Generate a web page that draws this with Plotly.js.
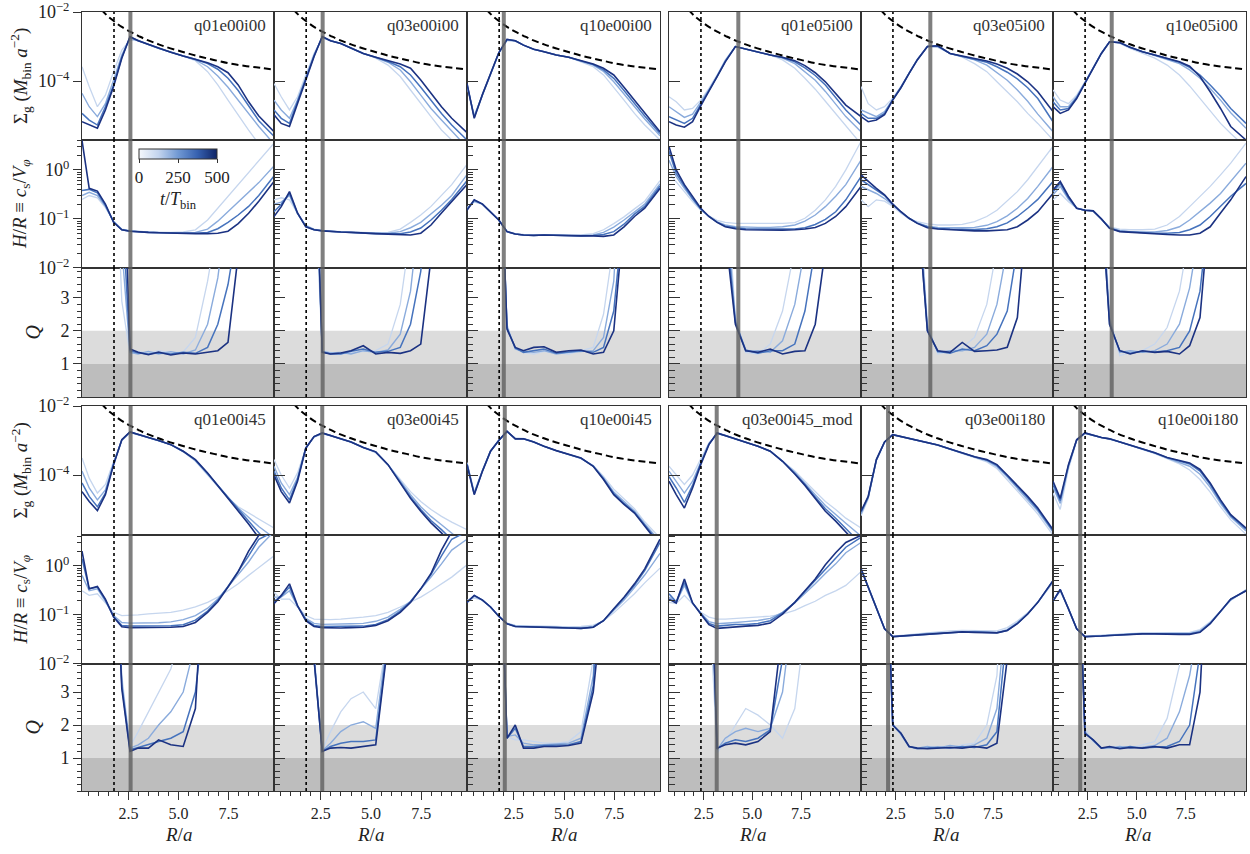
<!DOCTYPE html>
<html><head><meta charset="utf-8">
<script src="https://cdn.plot.ly/plotly-3.0.1.min.js"></script>
<style>html,body{margin:0;padding:0;background:#fff;}#chart{width:1250px;height:854px;}</style>
</head><body><div id="chart"></div>
<script>
// ---------- data ----------
// radial sample points: left group of panels and right group of panels (their R/a axes differ)
const R_left  = [0.17,0.53,0.94,1.34,1.75,2.16,2.57,2.98,3.49,4.0,4.61,5.23,5.84,6.45,6.96,7.47,7.98,8.5,9.01,9.77];
const R_right = [0.72,1.09,1.51,1.93,2.35,2.77,3.19,3.61,4.13,4.66,5.29,5.92,6.55,7.18,7.70,8.23,8.75,9.28,9.80,10.58];
const panelNames = ['q01e00i00','q03e00i00','q10e00i00','q01e05i00','q03e05i00','q10e05i00',
                    'q01e00i45','q03e00i45','q10e00i45','q03e00i45_mod','q03e00i180','q10e00i180'];
const grayR   = [2.59,2.59,2.0,4.28,4.28,3.72,2.6,2.57,2.05,3.17,2.11,2.11];
const dottedR = [1.77,1.77,1.77,2.36,2.36,2.36,1.77,1.77,1.77,2.36,2.36,2.36];
const snapshotTimes = [60,200,350,500];
const dashR_left  = [1.14,1.45,1.76,2.16,2.57,2.98,3.39,3.9,4.31,5.13,5.94,6.76,7.58,8.4,9.11,9.77];
const dashR_right = [1.72,2.03,2.35,2.77,3.19,3.61,4.03,4.55,4.97,5.81,6.65,7.49,8.33,9.17,9.91,10.58];
const dashSigma = [1.17e-2,7.7e-3,5.5e-3,3.7e-3,2.7e-3,2.05e-3,1.58e-3,1.22e-3,1.0e-3,7.2e-4,5.3e-4,4.1e-4,3.2e-4,2.7e-4,2.4e-4,2.15e-4];
const colorbarTicks = [0,250,500];
const xTicks = [2.5,5.0,7.5];
const xTickText = ['2.5','5.0','7.5'];

// each block: [t~60, t~200, t~350, t=500]
const sigma_q01e00i00 = [
 [2.6e-4,6.9e-5,1.8e-5,3.9e-5,1.87e-4,7.9e-4,1.55e-3,1.48e-3,1.15e-3,8.9e-4,6.8e-4,5.3e-4,3.9e-4,1.87e-4,7.7e-5,2.8e-5,1.0e-5,3.8e-6,1.5e-6,5e-7],
 [4.4e-5,1.8e-5,9.3e-6,2.2e-5,1.07e-4,5.7e-4,1.75e-3,1.48e-3,1.15e-3,8.9e-4,6.8e-4,5.3e-4,4.1e-4,2.6e-4,1.4e-4,6.6e-5,2.8e-5,1.15e-5,4.8e-6,1.5e-6],
 [1.15e-5,7.4e-6,5.3e-6,1.8e-5,7.7e-5,4.9e-4,1.86e-3,1.48e-3,1.15e-3,8.9e-4,6.8e-4,5.3e-4,4.3e-4,3.2e-4,2.2e-4,1.2e-4,5.3e-5,1.9e-5,7.1e-6,2.5e-6],
 [6.6e-6,5.3e-6,4.3e-6,1.45e-5,6.9e-5,4.6e-4,1.95e-3,1.48e-3,1.15e-3,8.9e-4,6.8e-4,5.3e-4,4.3e-4,3.4e-4,2.6e-4,1.74e-4,7.7e-5,2.5e-5,9.7e-6,3.4e-6]];
const hr_q01e00i00 = [
 [0.25,0.3,0.27,0.17,0.09,0.062,0.058,0.055,0.054,0.053,0.053,0.054,0.06,0.095,0.165,0.29,0.5,0.92,1.58,3.5],
 [0.3,0.35,0.3,0.18,0.088,0.061,0.057,0.055,0.054,0.053,0.052,0.052,0.053,0.062,0.09,0.14,0.22,0.35,0.55,1.2],
 [0.38,0.4,0.34,0.19,0.086,0.06,0.056,0.054,0.053,0.052,0.051,0.051,0.051,0.053,0.063,0.085,0.12,0.18,0.3,0.75],
 [4.0,0.42,0.37,0.2,0.085,0.06,0.056,0.054,0.053,0.052,0.051,0.05,0.05,0.05,0.051,0.056,0.08,0.13,0.23,0.58]];
const q_q01e00i00 = [
 [9,9,9,9,9,2.9,1.3,1.38,1.32,1.4,1.33,1.36,1.8,3.5,6,9,9,9,9,9],
 [9,9,9,9,9,4.5,1.35,1.3,1.38,1.3,1.37,1.3,1.42,2.2,3.6,6,9,9,9,9],
 [9,9,9,9,9,6,1.4,1.33,1.3,1.33,1.3,1.35,1.32,1.5,2.2,3.4,6,9,9,9],
 [9,9,9,9,9,9,1.45,1.35,1.28,1.36,1.27,1.33,1.3,1.35,1.4,1.65,4.3,9,9,9]];

const sigma_q03e00i00 = [
 [8.5e-5,3.5e-5,1.45e-5,3.5e-5,1.5e-4,6.3e-4,1.75e-3,1.48e-3,1.23e-3,8.9e-4,6.3e-4,4.6e-4,2.9e-4,1.35e-4,5.5e-5,2.2e-5,9.3e-6,3.8e-6,1.95e-6,6e-7],
 [2.8e-5,1.45e-5,8.3e-6,2.8e-5,1.2e-4,5.7e-4,1.86e-3,1.48e-3,1.23e-3,8.9e-4,6.3e-4,4.8e-4,3.5e-4,2.1e-4,9.5e-5,3.9e-5,1.6e-5,7.4e-6,3.4e-6,1.2e-6],
 [1.45e-5,8.3e-6,5.9e-6,2.5e-5,1.1e-4,5.3e-4,1.95e-3,1.48e-3,1.23e-3,8.9e-4,6.3e-4,4.9e-4,3.7e-4,2.6e-4,1.5e-4,6.6e-5,2.7e-5,1.15e-5,5.3e-6,1.95e-6],
 [1.05e-5,5.9e-6,4.8e-6,2.2e-5,1.07e-4,5.1e-4,1.95e-3,1.48e-3,1.23e-3,8.9e-4,6.3e-4,4.9e-4,3.9e-4,3.1e-4,2.35e-4,1.07e-4,4.4e-5,1.8e-5,8.3e-6,3.2e-6]];
const hr_q03e00i00 = [
 [0.245,0.27,0.245,0.13,0.075,0.062,0.058,0.056,0.055,0.054,0.053,0.052,0.053,0.062,0.085,0.12,0.18,0.3,0.5,1.3],
 [0.2,0.22,0.3,0.13,0.072,0.061,0.057,0.055,0.054,0.053,0.052,0.051,0.051,0.055,0.066,0.085,0.125,0.19,0.3,0.8],
 [0.14,0.2,0.33,0.13,0.07,0.06,0.057,0.055,0.054,0.053,0.051,0.05,0.05,0.05,0.054,0.065,0.095,0.15,0.25,0.6],
 [0.112,0.178,0.36,0.132,0.069,0.06,0.057,0.055,0.054,0.053,0.051,0.05,0.049,0.048,0.047,0.051,0.075,0.132,0.225,0.5]];
const q_q03e00i00 = [
 [9,9,9,9,9,7,1.4,1.35,1.3,1.35,1.38,1.4,1.6,2.8,5,9,9,9,9,9],
 [9,9,9,9,9,8,1.38,1.33,1.35,1.3,1.4,1.35,1.42,1.9,3.2,6,9,9,9,9],
 [9,9,9,9,9,9,1.37,1.3,1.3,1.38,1.45,1.35,1.38,1.5,2.2,3.8,7,9,9,9],
 [9,9,9,9,9,9,1.35,1.3,1.33,1.4,1.55,1.3,1.35,1.32,1.4,1.6,4.2,9,9,9]];

const sigma_q10e00i00 = [
 [6.9e-5,1.05e-5,3.9e-5,1.5e-4,6.3e-4,1.48e-3,1.42e-3,1.1e-3,8.3e-4,7.1e-4,5.7e-4,4.9e-4,3.6e-4,2.6e-4,1.5e-4,6.6e-5,2.8e-5,1.15e-5,5.3e-6,1.95e-6],
 [7.7e-5,9.3e-6,4.0e-5,1.55e-4,6.4e-4,1.55e-3,1.48e-3,1.1e-3,8.3e-4,7.1e-4,5.7e-4,4.9e-4,3.8e-4,2.9e-4,1.9e-4,9.5e-5,4.2e-5,1.8e-5,7.9e-6,2.6e-6],
 [8.1e-5,8.8e-6,4.1e-5,1.6e-4,6.6e-4,1.6e-3,1.48e-3,1.1e-3,8.3e-4,7.1e-4,5.7e-4,4.9e-4,3.9e-4,3.0e-4,2.1e-4,1.2e-4,5.3e-5,2.2e-5,9.7e-6,3.0e-6],
 [8.5e-5,8.3e-6,4.1e-5,1.63e-4,6.6e-4,1.62e-3,1.48e-3,1.1e-3,8.3e-4,7.1e-4,5.7e-4,4.9e-4,3.9e-4,3.1e-4,2.35e-4,1.5e-4,6.6e-5,2.8e-5,1.15e-5,3.4e-6]];
const hr_q10e00i00 = [
 [0.17,0.22,0.2,0.14,0.095,0.056,0.05,0.048,0.047,0.047,0.047,0.047,0.047,0.05,0.06,0.08,0.11,0.16,0.23,0.6],
 [0.16,0.23,0.2,0.14,0.095,0.055,0.049,0.047,0.046,0.047,0.046,0.046,0.046,0.047,0.053,0.068,0.095,0.14,0.2,0.52],
 [0.155,0.24,0.2,0.14,0.095,0.055,0.049,0.047,0.046,0.047,0.046,0.046,0.045,0.046,0.048,0.055,0.078,0.125,0.18,0.47],
 [0.15,0.245,0.2,0.14,0.095,0.055,0.049,0.047,0.046,0.047,0.046,0.046,0.045,0.045,0.044,0.047,0.069,0.112,0.165,0.42]];
const q_q10e00i00 = [
 [9,9,9,9,9,2.2,1.45,1.35,1.3,1.38,1.33,1.3,1.4,1.5,2.5,5,9,9,9,9],
 [9,9,9,9,9,2.1,1.45,1.38,1.35,1.4,1.3,1.35,1.38,1.4,1.8,3.5,9,9,9,9],
 [9,9,9,9,9,2.1,1.48,1.35,1.4,1.45,1.32,1.37,1.4,1.35,1.5,2.6,9,9,9,9],
 [9,9,9,9,9,2.05,1.5,1.4,1.5,1.52,1.35,1.4,1.42,1.3,1.35,2.0,8,9,9,9]];

const sigma_q01e05i00 = [
 [3.5e-5,2.5e-5,1.45e-5,1.6e-5,2.8e-5,6.1e-5,1.5e-4,4.1e-4,1.0e-3,8.5e-4,6.8e-4,5.7e-4,4.1e-4,2.35e-4,1.2e-4,5.8e-5,2.6e-5,1.15e-5,5.0e-6,1.5e-6],
 [1.8e-5,1.3e-5,8.8e-6,1.1e-5,2.4e-5,5.5e-5,1.4e-4,3.9e-4,1.0e-3,8.5e-4,6.8e-4,5.7e-4,4.6e-4,3.2e-4,1.9e-4,1.05e-4,5.0e-5,2.2e-5,9.3e-6,3.4e-6],
 [9.3e-6,7.4e-6,5.9e-6,8.3e-6,2.1e-5,5.2e-5,1.35e-4,3.7e-4,1.0e-3,8.5e-4,6.8e-4,5.7e-4,4.8e-4,3.6e-4,2.4e-4,1.45e-4,7.7e-5,3.3e-5,1.45e-5,5.3e-6],
 [6.6e-6,5.3e-6,4.6e-6,6.6e-6,1.9e-5,4.9e-5,1.3e-4,3.6e-4,1.0e-3,8.5e-4,6.8e-4,5.7e-4,4.9e-4,3.9e-4,2.8e-4,1.74e-4,9.5e-5,4.4e-5,2.0e-5,9.3e-6]];
const hr_q01e05i00 = [
 [0.85,0.58,0.36,0.225,0.15,0.115,0.093,0.085,0.081,0.081,0.081,0.081,0.081,0.084,0.103,0.15,0.245,0.46,1.0,3.8],
 [1.58,0.73,0.42,0.25,0.158,0.112,0.087,0.075,0.069,0.067,0.067,0.067,0.069,0.075,0.09,0.12,0.178,0.29,0.5,1.58],
 [2.4,0.85,0.46,0.26,0.16,0.112,0.086,0.071,0.066,0.063,0.062,0.062,0.062,0.062,0.066,0.077,0.098,0.14,0.245,0.73],
 [3.0,1.0,0.5,0.29,0.165,0.112,0.085,0.069,0.063,0.06,0.059,0.059,0.059,0.06,0.062,0.067,0.081,0.112,0.178,0.46]];
const q_q01e05i00 = [
 [9,9,9,9,9,9,9,7,2.4,1.35,1.3,1.6,2.6,4.5,9,9,9,9,9,9],
 [9,9,9,9,9,9,9,6,2.3,1.38,1.4,1.35,1.7,2.8,4.5,9,9,9,9,9],
 [9,9,9,9,9,9,9,5.5,2.25,1.42,1.32,1.4,1.4,1.6,2.6,4.5,9,9,9,9],
 [9,9,9,9,9,9,9,5,2.2,1.4,1.35,1.45,1.3,1.38,1.4,2.2,4.5,9,9,9]];

const sigma_q03e05i00 = [
 [6.9e-5,2.2e-5,1.45e-5,1.8e-5,3.2e-5,7.0e-5,1.7e-4,4.3e-4,1.0e-3,9.5e-4,6.3e-4,4.9e-4,3.2e-4,1.87e-4,9.5e-5,4.9e-5,2.5e-5,1.15e-5,5.9e-6,1.95e-6],
 [1.45e-5,1.15e-5,9.3e-6,1.3e-5,3.0e-5,6.6e-5,1.7e-4,4.2e-4,1.0e-3,1.0e-3,6.3e-4,5.1e-4,4.1e-4,2.9e-4,1.8e-4,1.05e-4,5.5e-5,2.6e-5,1.1e-5,3.4e-6],
 [1.15e-5,8.3e-6,8.3e-6,1.15e-5,2.9e-5,6.5e-5,1.66e-4,4.1e-4,1.0e-3,1.05e-3,6.3e-4,5.2e-4,4.4e-4,3.5e-4,2.6e-4,1.8e-4,1.15e-4,6.4e-5,3.1e-5,6.6e-6],
 [9.3e-6,6.6e-6,7.4e-6,1.05e-5,2.8e-5,6.4e-5,1.66e-4,4.1e-4,1.0e-3,1.05e-3,6.3e-4,5.3e-4,4.6e-4,3.8e-4,3.1e-4,2.35e-4,1.6e-4,9.5e-5,4.9e-5,1.3e-5]];
const hr_q03e05i00 = [
 [0.245,0.178,0.245,0.23,0.18,0.13,0.1,0.088,0.079,0.075,0.075,0.077,0.088,0.112,0.15,0.23,0.36,0.63,1.17,3.0],
 [0.46,0.39,0.33,0.26,0.19,0.135,0.103,0.083,0.071,0.067,0.066,0.066,0.067,0.074,0.088,0.115,0.165,0.26,0.46,1.17],
 [0.63,0.5,0.39,0.3,0.2,0.138,0.103,0.082,0.069,0.064,0.062,0.061,0.061,0.063,0.069,0.083,0.112,0.165,0.25,0.58],
 [0.79,0.58,0.42,0.31,0.2,0.14,0.103,0.081,0.066,0.062,0.06,0.058,0.057,0.057,0.058,0.06,0.069,0.095,0.14,0.33]];
const q_q03e05i00 = [
 [9,9,9,9,9,9,9,7,2.2,1.3,1.38,1.5,1.8,2.8,4.5,9,9,9,9,9],
 [9,9,9,9,9,9,9,6.5,2.1,1.35,1.4,1.4,1.5,1.9,2.8,4.5,9,9,9,9],
 [9,9,9,9,9,9,9,6,2.0,1.38,1.32,1.45,1.4,1.55,1.9,2.6,4.5,9,9,9],
 [9,9,9,9,9,9,9,6,2.0,1.4,1.35,1.65,1.38,1.4,1.42,1.5,2.4,6,9,9]];

const sigma_q10e05i00 = [
 [5.5e-5,2.8e-5,2.2e-5,3.9e-5,9.5e-5,2.5e-4,6.3e-4,1.38e-3,1.23e-3,8.9e-4,6.3e-4,4.6e-4,2.9e-4,1.5e-4,7.2e-5,3.1e-5,1.3e-5,5.9e-6,3.0e-6,1.2e-6],
 [3.5e-5,1.8e-5,1.8e-5,3.5e-5,8.9e-5,2.4e-4,6.3e-4,1.38e-3,1.28e-3,9.3e-4,7.1e-4,5.5e-4,4.3e-4,3.2e-4,2.1e-4,1.2e-4,6.1e-5,2.8e-5,1.2e-5,4.3e-6],
 [2.5e-5,1.45e-5,1.6e-5,3.3e-5,8.7e-5,2.35e-4,6.3e-4,1.38e-3,1.3e-3,9.5e-4,7.1e-4,5.7e-4,4.5e-4,3.5e-4,2.5e-4,1.5e-4,7.7e-5,3.7e-5,1.6e-5,5.9e-6],
 [1.8e-5,1.15e-5,1.45e-5,3.1e-5,8.5e-5,2.35e-4,6.3e-4,1.38e-3,1.3e-3,9.5e-4,7.1e-4,5.7e-4,4.6e-4,3.6e-4,2.7e-4,1.35e-4,4.9e-5,1.6e-5,4.8e-6,1.95e-6]];
const hr_q10e05i00 = [
 [0.245,0.33,0.225,0.165,0.15,0.146,0.1,0.069,0.062,0.06,0.06,0.062,0.075,0.112,0.178,0.29,0.46,0.79,1.37,3.5],
 [0.31,0.46,0.25,0.165,0.15,0.146,0.1,0.066,0.058,0.055,0.054,0.054,0.058,0.069,0.095,0.14,0.21,0.33,0.58,1.37],
 [0.36,0.53,0.27,0.165,0.15,0.146,0.1,0.065,0.056,0.054,0.052,0.051,0.051,0.053,0.06,0.075,0.112,0.178,0.29,0.53],
 [0.39,0.58,0.29,0.165,0.15,0.146,0.1,0.064,0.055,0.053,0.051,0.05,0.048,0.047,0.047,0.051,0.069,0.132,0.245,0.73]];
const q_q10e05i00 = [
 [9,9,9,9,9,9,7,2.4,1.25,1.35,1.4,1.6,2.1,3.2,5,9,9,9,9,9],
 [9,9,9,9,9,9,6.5,2.3,1.35,1.4,1.35,1.4,1.6,2.2,3.3,5.5,9,9,9,9],
 [9,9,9,9,9,9,6,2.2,1.4,1.32,1.38,1.36,1.4,1.5,2.0,3.2,6,9,9,9],
 [9,9,9,9,9,9,6,2.2,1.4,1.3,1.4,1.35,1.38,1.3,1.55,2.4,6,9,9,9]];

const sigma_q01e00i45 = [
 [3.1e-4,8.1e-5,3.0e-5,5.3e-5,2.5e-4,1.0e-3,1.66e-3,1.48e-3,1.23e-3,1.0e-3,7.6e-4,4.7e-4,2.5e-4,1.0e-4,4.6e-5,2.2e-5,1.2e-5,7.9e-6,5.1e-6,2.9e-6],
 [1.3e-4,4.2e-5,1.9e-5,3.7e-5,2.2e-4,1.03e-3,1.75e-3,1.48e-3,1.23e-3,1.0e-3,7.6e-4,4.8e-4,2.7e-4,1.07e-4,4.9e-5,2.2e-5,1.1e-5,5.9e-6,3.2e-6,1.5e-6],
 [5.9e-5,2.4e-5,1.2e-5,3.0e-5,2.1e-4,1.05e-3,1.78e-3,1.48e-3,1.23e-3,1.0e-3,7.6e-4,4.9e-4,2.7e-4,1.1e-4,5.0e-5,2.2e-5,9.7e-6,4.6e-6,2.1e-6,7.5e-7],
 [3.3e-5,1.7e-5,9.3e-6,2.7e-5,2.0e-4,1.05e-3,1.78e-3,1.48e-3,1.23e-3,1.0e-3,7.6e-4,4.9e-4,2.8e-4,1.15e-4,5.0e-5,2.1e-5,8.9e-6,3.8e-6,1.5e-6,5e-7]];
const hr_q01e00i45 = [
 [0.31,0.25,0.27,0.18,0.113,0.097,0.097,0.1,0.105,0.11,0.113,0.125,0.145,0.18,0.23,0.31,0.43,0.64,0.94,1.6],
 [0.64,0.31,0.34,0.19,0.097,0.07,0.068,0.068,0.068,0.069,0.072,0.08,0.097,0.137,0.21,0.37,0.64,1.2,2.4,5],
 [1.4,0.34,0.37,0.2,0.092,0.061,0.059,0.059,0.059,0.059,0.06,0.063,0.078,0.12,0.2,0.38,0.76,1.6,3.5,5],
 [2.0,0.34,0.38,0.21,0.09,0.057,0.055,0.055,0.055,0.055,0.056,0.058,0.07,0.113,0.185,0.37,0.76,2.0,4.2,6]];
const q_q01e00i45 = [
 [9,9,9,9,9,3.5,1.35,1.8,2.4,3.0,3.7,5,9,9,9,9,9,9,9,9],
 [9,9,9,9,9,3.3,1.3,1.4,1.6,2.0,2.4,3.0,4.5,9,9,9,9,9,9,9],
 [9,9,9,9,9,3.2,1.25,1.32,1.4,1.5,1.6,1.8,3.0,9,9,9,9,9,9,9],
 [9,9,9,9,9,3.1,1.2,1.3,1.3,1.55,1.4,1.35,2.5,9,9,9,9,9,9,9]];

const sigma_q03e00i45 = [
 [2.8e-4,1.0e-4,4.2e-5,1.15e-4,6.0e-4,1.23e-3,1.55e-3,1.4e-3,1.12e-3,9.1e-4,6.3e-4,4.4e-4,2.0e-4,7.4e-5,3.3e-5,1.7e-5,1.0e-5,6.3e-6,4.3e-6,2.6e-6],
 [1.8e-4,5.9e-5,2.7e-5,8.5e-5,6.0e-4,1.28e-3,1.6e-3,1.4e-3,1.12e-3,9.1e-4,6.3e-4,4.6e-4,2.0e-4,6.6e-5,2.7e-5,1.2e-5,6.3e-6,3.6e-6,2.1e-6,9e-7],
 [1.3e-4,4.2e-5,1.9e-5,7.4e-5,6.0e-4,1.3e-3,1.66e-3,1.4e-3,1.12e-3,9.1e-4,6.3e-4,4.7e-4,2.0e-4,6.2e-5,2.3e-5,1.0e-5,4.8e-6,2.6e-6,1.3e-6,5e-7],
 [1.0e-4,3.3e-5,1.55e-5,6.6e-5,6.0e-4,1.3e-3,1.66e-3,1.4e-3,1.12e-3,9.1e-4,6.3e-4,4.7e-4,2.0e-4,5.9e-5,2.1e-5,8.9e-6,4.1e-6,2.1e-6,9e-7,3e-7]];
const hr_q03e00i45 = [
 [0.29,0.21,0.21,0.145,0.097,0.082,0.08,0.08,0.082,0.085,0.09,0.097,0.113,0.145,0.18,0.23,0.31,0.43,0.59,1.05],
 [0.23,0.23,0.31,0.15,0.085,0.067,0.064,0.064,0.064,0.066,0.067,0.074,0.09,0.13,0.19,0.33,0.59,1.1,2.1,3.5],
 [0.19,0.24,0.37,0.152,0.08,0.061,0.058,0.058,0.058,0.058,0.059,0.064,0.08,0.12,0.185,0.34,0.66,1.6,3.5,5],
 [0.17,0.25,0.43,0.155,0.076,0.058,0.055,0.054,0.054,0.055,0.056,0.061,0.076,0.113,0.18,0.34,0.7,2.1,5,6]];
const q_q03e00i45 = [
 [9,9,9,9,9,4.2,1.25,1.8,2.4,2.8,3.0,2.5,5,9,9,9,9,9,9,9],
 [9,9,9,9,9,4.1,1.22,1.45,1.8,2.0,2.1,1.9,4.8,9,9,9,9,9,9,9],
 [9,9,9,9,9,4.0,1.2,1.35,1.45,1.5,1.5,1.55,4.6,9,9,9,9,9,9,9],
 [9,9,9,9,9,4.0,1.2,1.3,1.32,1.3,1.35,1.4,4.5,9,9,9,9,9,9,9]];

const sigma_q10e00i45 = [
 [2.3e-4,3.2e-5,1.4e-4,5.0e-4,1.0e-3,1.75e-3,1.2e-3,1.15e-3,9.1e-4,6.8e-4,5.1e-4,3.9e-4,3.0e-4,1.9e-4,9.1e-5,3.9e-5,2.0e-5,1.05e-5,4.4e-6,1.5e-6],
 [2.2e-4,3.0e-5,1.35e-4,4.9e-4,1.0e-3,1.8e-3,1.15e-3,1.13e-3,9.1e-4,6.8e-4,5.1e-4,3.9e-4,3.05e-4,1.85e-4,8.3e-5,3.2e-5,1.7e-5,9.0e-6,3.8e-6,1.2e-6],
 [2.1e-4,2.8e-5,1.3e-4,4.9e-4,1.0e-3,1.85e-3,1.12e-3,1.12e-3,9.1e-4,6.8e-4,5.1e-4,3.9e-4,3.1e-4,1.8e-4,7.8e-5,2.9e-5,1.5e-5,8.3e-6,3.4e-6,1.0e-6],
 [2.0e-4,2.7e-5,1.3e-4,4.9e-4,1.0e-3,1.86e-3,1.12e-3,1.12e-3,9.1e-4,6.8e-4,5.1e-4,3.9e-4,3.1e-4,1.8e-4,7.4e-5,2.7e-5,1.4e-5,7.9e-6,3.2e-6,9e-7]];
const hr_q10e00i45 = [
 [0.2,0.22,0.2,0.145,0.094,0.068,0.061,0.06,0.059,0.058,0.058,0.057,0.058,0.062,0.075,0.11,0.17,0.27,0.45,0.9],
 [0.19,0.24,0.2,0.145,0.094,0.067,0.06,0.058,0.057,0.056,0.056,0.055,0.055,0.058,0.076,0.125,0.2,0.36,0.65,1.8],
 [0.18,0.25,0.2,0.145,0.094,0.066,0.058,0.057,0.056,0.055,0.055,0.054,0.053,0.056,0.076,0.13,0.22,0.4,0.8,3.0],
 [0.18,0.25,0.2,0.145,0.094,0.066,0.058,0.057,0.056,0.055,0.055,0.054,0.053,0.056,0.076,0.133,0.23,0.43,0.87,3.5]];
const q_q10e00i45 = [
 [9,9,9,9,9,1.65,1.55,1.55,1.5,1.45,1.45,1.5,1.8,4.0,9,9,9,9,9,9],
 [9,9,9,9,9,1.65,1.7,1.45,1.4,1.4,1.42,1.45,1.6,3.5,9,9,9,9,9,9],
 [9,9,9,9,9,1.6,1.9,1.35,1.35,1.38,1.38,1.4,1.5,3.2,9,9,9,9,9,9],
 [9,9,9,9,9,1.6,2.0,1.3,1.3,1.35,1.35,1.38,1.45,3.0,9,9,9,9,9,9]];

const sigma_q03e00i45_mod = [
 [1.8e-4,1.0e-4,5.3e-5,1.0e-4,2.8e-4,8.5e-4,1.55e-3,1.4e-3,1.12e-3,9.1e-4,6.8e-4,4.9e-4,2.6e-4,1.3e-4,6.6e-5,3.3e-5,1.7e-5,1.0e-5,5.6e-6,2.9e-6],
 [1.3e-4,6.6e-5,3.0e-5,6.6e-5,2.4e-4,8.1e-4,1.6e-3,1.4e-3,1.12e-3,9.1e-4,6.8e-4,4.9e-4,2.55e-4,1.2e-4,5.9e-5,2.7e-5,1.3e-5,7.4e-6,4.0e-6,1.7e-6],
 [9.0e-5,4.2e-5,1.6e-5,5.0e-5,2.2e-4,7.8e-4,1.66e-3,1.4e-3,1.12e-3,9.1e-4,6.8e-4,4.9e-4,2.5e-4,1.1e-4,5.3e-5,2.3e-5,1.05e-5,5.6e-6,2.9e-6,1.0e-6],
 [6.6e-5,2.7e-5,1.1e-5,4.2e-5,2.0e-4,7.6e-4,1.66e-3,1.4e-3,1.12e-3,9.1e-4,6.8e-4,4.9e-4,2.5e-4,1.07e-4,5.0e-5,2.1e-5,8.9e-6,4.6e-6,2.3e-6,7.5e-7]];
const hr_q03e00i45_mod = [
 [0.18,0.17,0.25,0.17,0.113,0.09,0.082,0.082,0.085,0.088,0.09,0.094,0.104,0.124,0.155,0.19,0.25,0.31,0.4,0.76],
 [0.23,0.18,0.4,0.173,0.11,0.073,0.066,0.067,0.07,0.073,0.077,0.085,0.113,0.175,0.27,0.43,0.7,1.1,1.85,3.0],
 [0.27,0.185,0.46,0.175,0.107,0.067,0.059,0.061,0.064,0.064,0.067,0.076,0.11,0.18,0.3,0.5,0.87,1.45,2.4,3.8],
 [0.21,0.175,0.54,0.175,0.104,0.063,0.053,0.055,0.058,0.059,0.061,0.068,0.104,0.18,0.31,0.54,1.05,1.85,3.0,4.2]];
const q_q03e00i45_mod = [
 [9,9,9,9,9,6,1.15,1.5,2.0,2.5,2.3,2.0,1.6,2.5,5,9,9,9,9,9],
 [9,9,9,9,9,8,1.25,1.6,1.8,1.9,1.8,1.9,3.0,6,9,9,9,9,9,9],
 [9,9,9,9,9,9,1.28,1.45,1.55,1.5,1.6,1.85,4.0,9,9,9,9,9,9,9],
 [9,9,9,9,9,9,1.3,1.4,1.45,1.4,1.5,1.8,5,9,9,9,9,9,9,9]];

const sigma_q03e00i180 = [
 [6.6e-6,2.0e-5,2.6e-4,8.9e-4,1.45e-3,1.3e-3,1.15e-3,1.05e-3,8.9e-4,7.4e-4,5.7e-4,4.2e-4,3.2e-4,2.4e-4,1.55e-4,7.4e-5,3.5e-5,1.6e-5,7.4e-6,1.8e-6],
 [7.4e-6,2.2e-5,2.7e-4,9.0e-4,1.47e-3,1.3e-3,1.15e-3,1.05e-3,8.9e-4,7.4e-4,5.7e-4,4.3e-4,3.3e-4,2.6e-4,1.75e-4,8.7e-5,4.2e-5,2.0e-5,9.0e-6,2.2e-6],
 [8.3e-6,2.3e-5,2.8e-4,9.1e-4,1.48e-3,1.3e-3,1.15e-3,1.05e-3,8.9e-4,7.4e-4,5.7e-4,4.3e-4,3.4e-4,2.7e-4,1.9e-4,9.5e-5,4.7e-5,2.2e-5,1.0e-5,2.4e-6],
 [8.9e-6,2.4e-5,2.8e-4,9.1e-4,1.48e-3,1.3e-3,1.15e-3,1.05e-3,8.9e-4,7.4e-4,5.7e-4,4.3e-4,3.4e-4,2.8e-4,2.0e-4,1.0e-4,5.0e-5,2.4e-5,1.1e-5,2.6e-6]];
const hr_q03e00i180 = [
 [0.9,0.38,0.135,0.053,0.037,0.038,0.04,0.041,0.043,0.045,0.047,0.048,0.048,0.048,0.047,0.055,0.075,0.11,0.18,0.45],
 [0.88,0.37,0.134,0.052,0.036,0.037,0.039,0.04,0.042,0.043,0.045,0.046,0.046,0.045,0.044,0.05,0.07,0.107,0.18,0.48],
 [0.87,0.37,0.133,0.052,0.036,0.037,0.038,0.039,0.041,0.042,0.044,0.045,0.045,0.044,0.043,0.048,0.067,0.104,0.18,0.5],
 [0.87,0.37,0.133,0.052,0.036,0.037,0.038,0.039,0.041,0.042,0.044,0.045,0.044,0.044,0.043,0.048,0.066,0.104,0.18,0.5]];
const q_q03e00i180 = [
 [9,9,9,9,2.05,1.7,1.35,1.32,1.3,1.35,1.3,1.4,1.45,2.0,3.5,9,9,9,9,9],
 [9,9,9,9,2.0,1.72,1.33,1.3,1.35,1.3,1.38,1.33,1.4,1.6,2.5,6,9,9,9,9],
 [9,9,9,9,2.0,1.75,1.35,1.28,1.3,1.33,1.3,1.35,1.32,1.4,1.8,5,9,9,9,9],
 [9,9,9,9,2.0,1.75,1.35,1.3,1.28,1.3,1.32,1.3,1.35,1.3,1.45,4.0,9,9,9,9]];

const sigma_q10e00i180 = [
 [3.0e-5,1.0e-5,1.5e-4,1.0e-3,1.6e-3,1.4e-3,1.23e-3,1.12e-3,9.1e-4,7.2e-4,5.6e-4,4.2e-4,3.0e-4,2.1e-4,1.4e-4,7.4e-5,3.2e-5,1.2e-5,5.0e-6,1.9e-6],
 [4.5e-5,1.5e-5,1.75e-4,1.03e-3,1.63e-3,1.4e-3,1.23e-3,1.12e-3,9.1e-4,7.2e-4,5.7e-4,4.3e-4,3.1e-4,2.35e-4,1.8e-4,1.05e-4,4.4e-5,1.5e-5,6.0e-6,2.4e-6],
 [5.5e-5,1.8e-5,1.9e-4,1.05e-3,1.66e-3,1.4e-3,1.23e-3,1.12e-3,9.1e-4,7.2e-4,5.8e-4,4.4e-4,3.2e-4,2.5e-4,2.1e-4,1.3e-4,5.3e-5,1.7e-5,6.6e-6,2.7e-6],
 [6.6e-5,2.1e-5,2.0e-4,1.05e-3,1.66e-3,1.4e-3,1.23e-3,1.12e-3,9.1e-4,7.2e-4,5.8e-4,4.4e-4,3.2e-4,2.6e-4,2.25e-4,1.45e-4,5.9e-5,1.9e-5,7.1e-6,2.9e-6]];
const hr_q10e00i180 = [
 [0.2,0.3,0.135,0.053,0.037,0.038,0.039,0.04,0.041,0.042,0.043,0.043,0.043,0.043,0.044,0.05,0.072,0.12,0.2,0.33],
 [0.19,0.32,0.134,0.052,0.036,0.037,0.038,0.039,0.04,0.041,0.042,0.042,0.042,0.042,0.042,0.047,0.069,0.118,0.2,0.32],
 [0.19,0.33,0.133,0.052,0.036,0.036,0.037,0.038,0.039,0.04,0.041,0.041,0.041,0.041,0.041,0.045,0.067,0.117,0.21,0.31],
 [0.19,0.33,0.133,0.052,0.036,0.036,0.037,0.038,0.039,0.04,0.041,0.041,0.04,0.04,0.04,0.044,0.066,0.117,0.21,0.31]];
const q_q10e00i180 = [
 [9,9,9,9,1.9,1.5,1.3,1.32,1.35,1.3,1.4,1.5,2.2,3.8,6,9,9,9,9,9],
 [9,9,9,9,1.8,1.52,1.3,1.3,1.35,1.3,1.33,1.38,1.6,2.4,3.5,6,9,9,9,9],
 [9,9,9,9,1.75,1.55,1.3,1.33,1.3,1.35,1.3,1.33,1.35,1.5,2.0,4.2,9,9,9,9],
 [9,9,9,9,1.75,1.55,1.3,1.35,1.28,1.32,1.3,1.35,1.3,1.4,1.4,3.0,9,9,9,9]];

// ---------- styling ----------
const FONT = 'Liberation Serif, DejaVu Serif, serif';
const W = 1250, H = 854;
const lineColors = ['#c6d6ee','#8aabdc','#4673bd','#1b3282'];
const lineWidths = [1.3,1.4,1.5,1.6];
const cmap = [[0,'#f5f8fc'],[0.25,'#c3d4ee'],[0.5,'#7199d4'],[0.75,'#3661b0'],[1,'#0f2466']];
const colPx = [[82,274],[274,467],[467,660],[669,861],[861,1053],[1053,1246]];
const xLabelPx = [178,370,563,752,945,1137];
const rowPx = [[[12,140],[140,268],[268,397]],[[406,535],[535,664],[664,791]]];
const yRanges = [[[-5.71,-1.998],[-2.002,0.61],[0,3.9]],[[-5.74,-1.998],[-2.002,0.63],[0,3.85]]];
const xRangeLeft = [0.17,9.77], xRangeRight = [0.72,10.58];

const allSigma = [sigma_q01e00i00,sigma_q03e00i00,sigma_q10e00i00,sigma_q01e05i00,sigma_q03e05i00,sigma_q10e05i00,
                  sigma_q01e00i45,sigma_q03e00i45,sigma_q10e00i45,sigma_q03e00i45_mod,sigma_q03e00i180,sigma_q10e00i180];
const allHR = [hr_q01e00i00,hr_q03e00i00,hr_q10e00i00,hr_q01e05i00,hr_q03e05i00,hr_q10e05i00,
               hr_q01e00i45,hr_q03e00i45,hr_q10e00i45,hr_q03e00i45_mod,hr_q03e00i180,hr_q10e00i180];
const allQ = [q_q01e00i00,q_q03e00i00,q_q10e00i00,q_q01e05i00,q_q03e05i00,q_q10e05i00,
              q_q01e00i45,q_q03e00i45,q_q10e00i45,q_q03e00i45_mod,q_q03e00i180,q_q10e00i180];

const hrMinor = [];
[0.01,0.1,1].forEach(d => { for (let m=2;m<=9;m++) hrMinor.push(+(m*d).toPrecision(2)); });

const data = [], shapes = [], annotations = [];
const layout = {
  width: W, height: H, margin: {l:0,r:0,t:0,b:0},
  paper_bgcolor: '#ffffff', plot_bgcolor: 'rgba(0,0,0,0)', showlegend: false,
  font: {family: FONT, size: 15, color: '#222'},
  shapes: shapes, annotations: annotations
};
const AX = '#333';

panelNames.forEach((name, p) => {
  const b = Math.floor(p/6), c = p % 6;
  const rightGroup = c >= 3;
  const Rgrid = rightGroup ? R_right : R_left;
  const dashR = rightGroup ? dashR_right : dashR_left;
  const series = [allSigma[p], allHR[p], allQ[p]];
  for (let r = 0; r < 3; r++) {
    const k = b*18 + c*3 + r + 1;
    const sfx = k === 1 ? '' : String(k);
    const xs = 'x'+sfx, ys = 'y'+sfx;
    const left = c === 0;
    const bottomRow = (b === 1 && r === 2);
    const [top, bot] = rowPx[b][r];
    const xa = {
      domain: [colPx[c][0]/W, colPx[c][1]/W], range: rightGroup ? xRangeRight : xRangeLeft, anchor: ys,
      showline: true, mirror: true, linecolor: AX, linewidth: 1,
      showgrid: false, zeroline: false, fixedrange: true,
      tickmode: 'array', tickvals: xTicks, ticktext: xTickText,
      ticks: bottomRow ? 'outside' : '', ticklen: 8, tickcolor: AX,
      showticklabels: bottomRow, tickfont: {family: FONT, size: 16, color: '#222'}
    };
    if (bottomRow) xa.minor = {dtick: 0.5, tick0: 0, ticks: 'outside', ticklen: 4, tickcolor: AX};
    layout['xaxis'+sfx] = xa;

    const ya = {
      domain: [1 - bot/H, 1 - top/H], range: yRanges[b][r], anchor: xs,
      showline: true, mirror: true, linecolor: AX, linewidth: 1,
      showgrid: false, zeroline: false, fixedrange: true,
      ticks: left ? 'outside' : 'inside', ticklen: left ? 8 : 11, tickcolor: AX,
      showticklabels: left, tickfont: {family: FONT, size: 18, color: '#222'},
      ticklabeloverflow: 'allow', tickmode: 'array'
    };
    if (r === 0) {
      ya.type = 'log';
      ya.tickvals = [1e-4, 1e-2];
      ya.ticktext = ['10<sup>−4</sup>','10<sup>−2</sup>'];
    } else if (r === 1) {
      ya.type = 'log';
      ya.tickvals = [1e-2, 1e-1, 1];
      ya.ticktext = ['10<sup>−2</sup>','10<sup>−1</sup>','10<sup>0</sup>'];
      ya.minor = {tickmode: 'array', tickvals: hrMinor, ticks: left ? 'outside' : 'inside', ticklen: left ? 4 : 6, tickcolor: AX};
    } else {
      ya.type = 'linear';
      ya.tickvals = [1,2,3];
      ya.ticktext = ['1','2','3'];
      ya.minor = {dtick: 0.2, tick0: 0, ticks: left ? 'outside' : 'inside', ticklen: left ? 4 : 6, tickcolor: AX};
    }
    layout['yaxis'+sfx] = ya;

    if (r === 2) {
      shapes.push({type:'rect', layer:'below', xref: xs+' domain', yref: ys, x0:0, x1:1, y0:0, y1:1, fillcolor:'#bdbdbd', line:{width:0}});
      shapes.push({type:'rect', layer:'below', xref: xs+' domain', yref: ys, x0:0, x1:1, y0:1, y1:2, fillcolor:'#dcdcdc', line:{width:0}});
    }
    series[r].forEach((vals, i) => {
      data.push({type:'scatter', mode:'lines', x: Rgrid, y: vals, xaxis: xs, yaxis: ys,
                 name: 't='+snapshotTimes[i], line: {color: lineColors[i], width: lineWidths[i]}, hoverinfo: 'skip'});
    });
    if (r === 0) {
      data.push({type:'scatter', mode:'lines', x: dashR, y: dashSigma, xaxis: xs, yaxis: ys,
                 line: {color:'#000', width: 2, dash: '7px,4px', shape: 'spline'}, hoverinfo: 'skip'});
    }
    shapes.push({type:'line', layer:'above', xref: xs, yref: ys+' domain', x0: grayR[p], x1: grayR[p], y0: 0, y1: 1,
                 line: {color: 'rgba(95,95,95,0.8)', width: 4}});
    shapes.push({type:'line', layer:'above', xref: xs, yref: ys+' domain', x0: dottedR[p], x1: dottedR[p], y0: 0, y1: 1,
                 line: {color: '#000', width: 1.6, dash: 'dot'}});
  }
  const topPx = rowPx[b][0][0];
  annotations.push({xref:'paper', yref:'paper', x: (colPx[c][1]-6)/W, y: 1-(topPx+13)/H, xanchor:'right', yanchor:'middle',
                    text: name, showarrow: false, font: {family: FONT, size: 17, color: '#333'}});
  if (b === 1) {
    annotations.push({xref:'paper', yref:'paper', x: xLabelPx[c]/W, y: 1-834/H, xanchor:'center', yanchor:'middle',
                      text: '<i>R</i>/<i>a</i>', showarrow: false, font: {family: FONT, size: 19, color: '#222'}});
  }
});

// y-axis titles
[0,1].forEach(b => {
  const rp = rowPx[b];
  annotations.push({xref:'paper', yref:'paper', x: 21/W, y: 1-((rp[0][0]+rp[0][1])/2)/H, textangle: -90, showarrow:false,
    xanchor:'center', yanchor:'middle', text:'Σ<sub>g</sub> (<i>M</i><sub>bin</sub> <i>a</i><sup>−2</sup>)', font:{family:FONT,size:19,color:'#222'}});
  annotations.push({xref:'paper', yref:'paper', x: 21/W, y: 1-((rp[1][0]+rp[1][1])/2)/H, textangle: -90, showarrow:false,
    xanchor:'center', yanchor:'middle', text:'<i>H</i>/<i>R</i> ≡ <i>c</i><sub>s</sub>/<i>V</i><sub><i>φ</i></sub>', font:{family:FONT,size:19,color:'#222'}});
  annotations.push({xref:'paper', yref:'paper', x: 32/W, y: 1-((rp[2][0]+rp[2][1])/2)/H, textangle: -90, showarrow:false,
    xanchor:'center', yanchor:'middle', text:'<i>Q</i>', font:{family:FONT,size:20,color:'#222'}});
});

// colorbar (time of each snapshot)
data.push({type:'scatter', mode:'markers', x:[-50,-50], y:[-50,-50], xaxis:'x2', yaxis:'y2', hoverinfo:'skip',
  marker:{color:[colorbarTicks[0], colorbarTicks[2]], cmin:0, cmax:500, colorscale:cmap, size:1, showscale:true,
    colorbar:{orientation:'h', x:178/W, xanchor:'center', y:1-149/H, yanchor:'top', len:78, lenmode:'pixels',
      thickness:10, thicknessmode:'pixels', xpad:0, ypad:0, outlinecolor:AX, outlinewidth:1,
      tickmode:'array', tickvals:colorbarTicks, ticks:'outside', ticklen:4, tickcolor:AX,
      tickfont:{family:FONT,size:17,color:'#222'},
      title:{text:'<i>t</i>/<i>T</i><sub>bin</sub>', side:'bottom', font:{family:FONT,size:18,color:'#222'}}}}});

Plotly.newPlot('chart', data, layout, {staticPlot: true, displayModeBar: false});
</script>
</body></html>
